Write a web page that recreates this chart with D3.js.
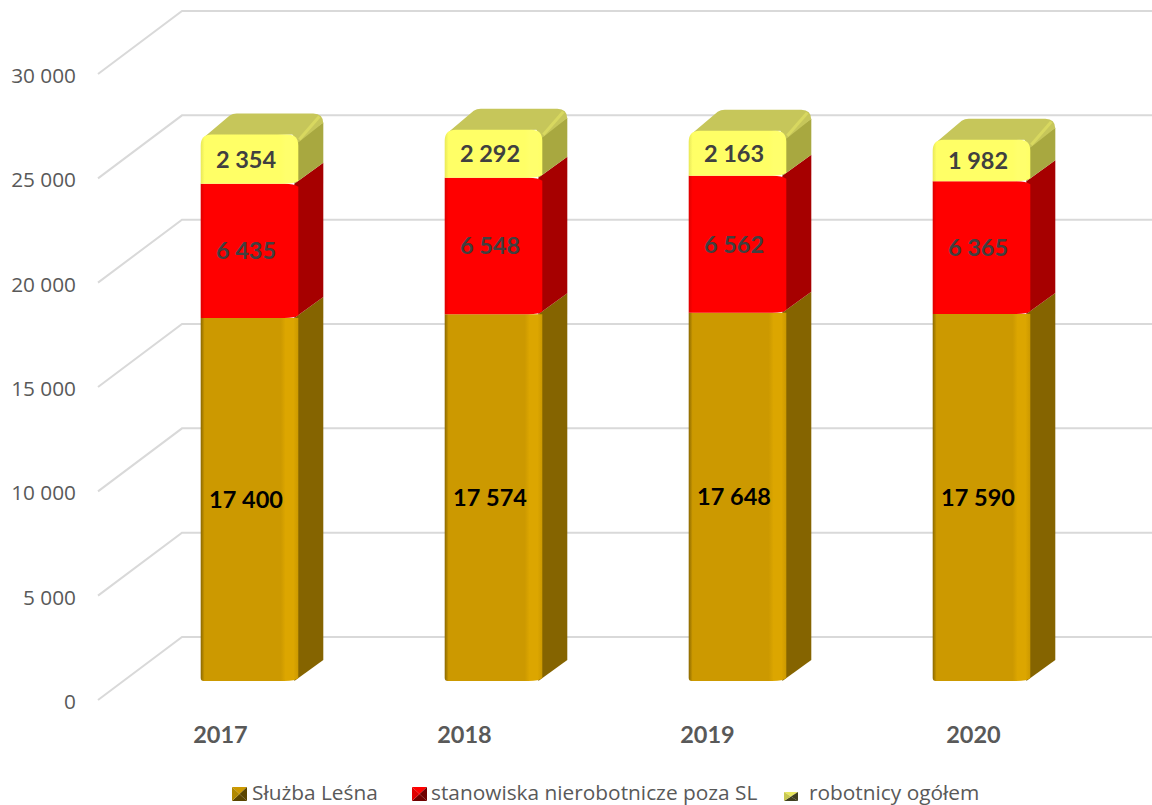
<!DOCTYPE html>
<html><head><meta charset="utf-8">
<script src="https://cdn.jsdelivr.net/npm/d3@7"></script>
<style>html,body{margin:0;padding:0;background:#fff;overflow:hidden}svg{display:block}</style>
</head><body><svg id="c" width="1152" height="805"></svg>
<script>
const years = ["2017","2018","2019","2020"];
const sluzbaLesna = [17400,17574,17648,17590];
const stanowiska = [6435,6548,6562,6365];
const robotnicy = [2354,2292,2163,1982];
const tickValues = [0,5000,10000,15000,20000,25000,30000];
const seriesNames = ["Służba Leśna","stanowiska nierobotnicze poza SL","robotnicy ogółem"];

const W=1152,H=805;
const svg=d3.select("#c");
const fmt=d3.formatLocale({decimal:",",thousands:"\u00a0",grouping:[3],currency:["",""]}).format(",d");
const y=d3.scaleLinear().domain([0,30000]).range([700,74]);
const x=d3.scaleBand().domain(years).range([127.5,1103.5]).paddingInner(0.6).paddingOuter(0.3);
const wall={dx:84,dy:-63};
const barLift=-19, depth={dx:25,dy:-21};
const styles=[
 {front:"#CC9900",hi:"#DCA600",dark:"#8a6800",side:"#856400",label:"#000"},
 {front:"#FF0000",hi:"#FF0000",dark:"#dd0000",side:"#A60000",label:"#404040"},
 {front:"#FFFF66",hi:"#FFFF6c",dark:"#e8e858",side:"#A8A840",top:"#C6C65A",label:"#404040"}
];
const defs=svg.append("defs");
styles.forEach((s,i)=>{
  const g=defs.append("linearGradient").attr("id","g"+i);
  [[0,s.dark],[.04,s.front],[.82,s.front],[.87,s.hi],[.95,s.hi],[1,s.front]].forEach(([o,c])=>
    g.append("stop").attr("offset",o).attr("stop-color",c));
});

// grid
const grid=svg.append("g").attr("fill","none").attr("stroke","#D9D9D9").attr("stroke-width",2);
grid.selectAll("path").data(tickValues).join("path").attr("d",v=>{
  const p=d3.path();p.moveTo(98,y(v));p.lineTo(98+wall.dx,y(v)+wall.dy);p.lineTo(W,y(v)+wall.dy);return p.toString();
});

// y axis
const ax=svg.append("g").attr("transform","translate(76,2)")
  .call(d3.axisLeft(y).tickValues(tickValues).tickFormat(fmt).tickSize(0).tickPadding(0));
ax.select(".domain").remove();
ax.selectAll("text").attr("font-family","'Open Sans'").attr("font-size",20.8).attr("fill","#595959");

// bars
const series=[sluzbaLesna,stanowiska,robotnicy];
const barsG=svg.append("g");
years.forEach((yr,i)=>{
  const xl=x(yr),xr=xl+x.bandwidth();
  const g=barsG.append("g");
  let acc=0;
  const {dx,dy}=depth;
  const segs=series.map((arr,k)=>{const a=acc;acc+=arr[i];return {k,v:arr[i],y0:y(a)+barLift,y1:y(acc)+barLift};});
  // sides, bottom to top
  segs.forEach(s=>{
    const st=styles[s.k],isTop=s.k===2,isBot=s.k===0;
    const p=d3.path();
    p.moveTo(xr-4,s.y0);
    p.lineTo(xr+dx,s.y0+dy);
    if(isTop){p.lineTo(xr+dx,s.y1+dy+9);p.lineTo(xr-4,s.y1+8);}
    else{p.lineTo(xr+dx,s.y1+dy);p.lineTo(xr-4,s.y1);}
    p.closePath();
    g.append("path").attr("d",p.toString()).attr("fill",st.side);
  });
  // top face
  const top=segs[2];
  const tp=d3.path();
  tp.moveTo(xl+3,top.y1+3);
  tp.lineTo(xl+dx+4,top.y1+dy+2);
  tp.quadraticCurveTo(xl+dx+7,top.y1+dy,xl+dx+11,top.y1+dy);
  tp.lineTo(xr+dx-10,top.y1+dy);
  tp.quadraticCurveTo(xr+dx,top.y1+dy,xr+dx,top.y1+dy+10);
  tp.lineTo(xr+dx-1,top.y1+dy+10);
  tp.lineTo(xr,top.y1+8);
  tp.lineTo(xr-6,top.y1);
  tp.closePath();
  g.append("path").attr("d",tp.toString()).attr("fill",styles[2].top);
  g.append("path").attr("d",`M${xr+1},${top.y1+5}L${xr+dx-4},${top.y1+dy+3}`).attr("stroke","#D8D860").attr("stroke-width",3).attr("fill","none");
  // fronts
  const r=11;
  segs.forEach(s=>{
    const p=d3.path(),isTop=s.k===2,isBot=s.k===0;
    if(isBot){
      p.moveTo(xl,s.y0-3);p.quadraticCurveTo(xl,s.y0,xl+3,s.y0);
      p.lineTo(xr-14,s.y0);p.quadraticCurveTo(xr-3,s.y0,xr,s.y0-3);
      p.lineTo(xr,s.y1);p.lineTo(xl,s.y1);
    } else if(isTop){
      p.moveTo(xl,s.y0);p.lineTo(xl,s.y1+r);p.quadraticCurveTo(xl,s.y1,xl+r,s.y1);
      p.lineTo(xr-r,s.y1);p.quadraticCurveTo(xr,s.y1,xr,s.y1+r);
      p.lineTo(xr,s.y0-3);p.quadraticCurveTo(xr-4,s.y0,xr-14,s.y0);
    } else {
      p.moveTo(xl,s.y0);p.lineTo(xr-14,s.y0);p.quadraticCurveTo(xr-3,s.y0,xr,s.y0-3);
      p.lineTo(xr,s.y1+3);p.quadraticCurveTo(xr-4,s.y1,xr-14,s.y1);p.lineTo(xl,s.y1);
    }
    p.closePath();
    g.append("path").attr("d",p.toString()).attr("fill",`url(#g${s.k})`);
    g.append("text").attr("x",(xl+xr)/2-3.5).attr("y",(s.y0+s.y1)/2).attr("dy","0.36em")
      .attr("text-anchor","middle").attr("font-family","Lato").attr("font-weight",700)
      .attr("font-size",23.5).attr("fill",styles[s.k].label).text(fmt(s.v));
  });
});

// category labels: offset from the bars as in the reference
const labelShift=[-29,-29,-30,-8];
svg.append("g").selectAll("text").data(years).join("text")
  .attr("x",(d,i)=>x(d)+x.bandwidth()/2+labelShift[i]).attr("y",743)
  .attr("text-anchor","middle").attr("font-family","Lato").attr("font-weight",700)
  .attr("font-size",23.5).attr("fill","#595959").text(d=>d);

// legend
const legendPos=[{kx:232,ky:787,kw:15,kh:14,tx:252},{kx:412,ky:787,kw:15,kh:14,tx:431},{kx:784,ky:792,kw:14,kh:9,tx:809}];
const keyCols=[["#CC9900","#DDB000","#B08800","#5a4500"],["#FF0000","#D00000","#E00000","#700000"],["#E8E860","#DDDD55","#C8C850","#404020"]];
legendPos.forEach((l,i)=>{
  const g=svg.append("g");
  const cx=l.kx+l.kw/2,cy=l.ky+l.kh/2;
  const c=[[l.kx,l.ky],[l.kx+l.kw,l.ky],[l.kx+l.kw,l.ky+l.kh],[l.kx,l.ky+l.kh]];
  c.forEach((a,j)=>{
    const b=c[(j+1)%4];
    const col=[keyCols[i][0],keyCols[i][3],keyCols[i][3],keyCols[i][2]][j];
    g.append("path").attr("d",`M${a}L${b}L${cx},${cy}Z`).attr("fill",col);
  });
  g.append("text").attr("x",l.tx).attr("y",800).attr("font-family","'Open Sans'").attr("font-size",20.85)
    .attr("fill","#595959").text(seriesNames[i]);
});
</script></body></html>
